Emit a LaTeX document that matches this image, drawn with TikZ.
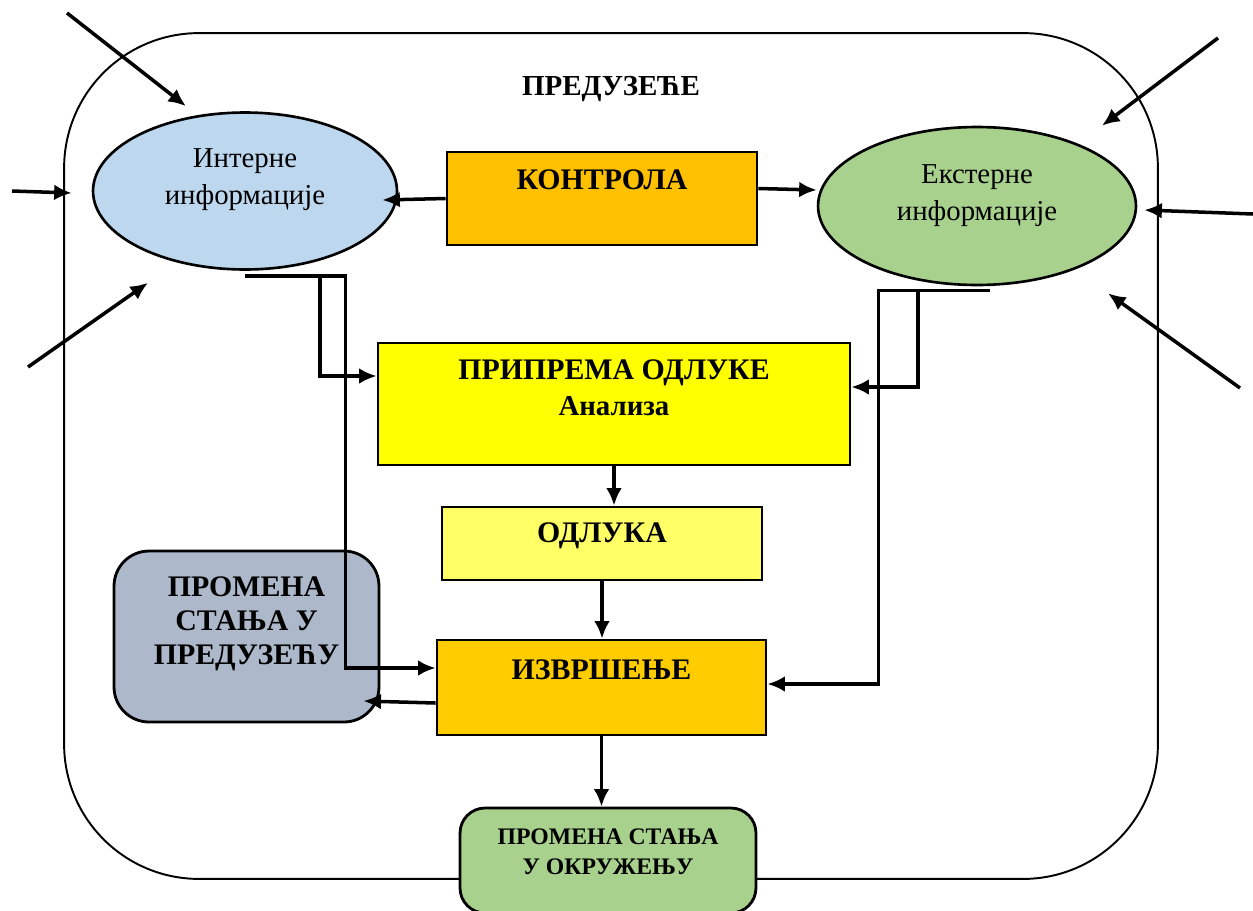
\documentclass[tikz,border=0pt]{standalone}
\usepackage{fontspec}
\setmainfont{Liberation Serif}
\usepackage{tikz}
\usetikzlibrary{
  shapes.geometric,
  arrows.meta}

\definecolor{infoblue}{HTML}{BDD7EE}
\definecolor{infogreen}{HTML}{A9D18E}
\definecolor{ctrlorange}{HTML}{FFC000}
\definecolor{prepyellow}{HTML}{FFFF00}
\definecolor{decyellow}{HTML}{FFFF66}
\definecolor{execorange}{HTML}{FFCC00}
\definecolor{stategray}{HTML}{ADB9CA}

\begin{document}
\begin{tikzpicture}[x=0.02cm, y=-0.02cm,
  box/.style={draw, line width=1.6pt, inner sep=0pt},
  info/.style={ellipse, draw, line width=1.5pt, inner sep=0pt},
  txt/.style={align=center, anchor=center, font=\bfseries\fontsize{17}{19.5}\selectfont},
  infotxt/.style={align=center, anchor=center, font=\fontsize{16.4}{21}\selectfont},
  arr/.style={line width=2pt, -{Latex[length=10pt,width=9pt]}}]

\useasboundingbox (0,0) rectangle (1253,910);

\node[draw, line width=1.1pt, rounded corners=2.7cm, minimum width=21.88cm, minimum height=16.92cm,
  label={[txt, font=\bfseries\fontsize{16.5}{19}\selectfont, yshift=-1.14cm]north:ПРЕДУЗЕЋЕ}] (firm) at (611,456) {};

\node[info, fill=infoblue, minimum width=6.08cm, minimum height=3.14cm,
  label={[infotxt, yshift=0.23cm]center:Интерне\\информације}] (intern) at (245,191) {};
\node[info, fill=infogreen, minimum width=6.36cm, minimum height=3.16cm,
  label={[infotxt, yshift=0.2cm]center:Екстерне\\информације}] (extern) at (977,206) {};

\node[box, fill=ctrlorange, minimum width=6.2cm, minimum height=1.86cm,
  label={[txt, yshift=-0.58cm]north:КОНТРОЛА}] (kontrola) at (602,198.5) {};
\node[box, fill=prepyellow, minimum width=9.44cm, minimum height=2.44cm,
  label={[txt, yshift=-0.92cm]north:ПРИПРЕМА ОДЛУКЕ\\[1pt]{\fontsize{16.4}{19}\selectfont Анализа}}] (prip) at (614,404) {};
\node[box, fill=decyellow, minimum width=6.4cm, minimum height=1.46cm,
  label={[txt, yshift=-0.6cm]north:ОДЛУКА}] (odluka) at (602,543.5) {};
\node[box, fill=execorange, minimum width=6.58cm, minimum height=1.9cm,
  label={[txt, yshift=-0.62cm]north:ИЗВРШЕЊЕ}] (izvr) at (601.5,687.5) {};
\node[box, fill=stategray, rounded corners=0.7cm, minimum width=5.3cm, minimum height=3.42cm,
  label={[txt, yshift=-1.48cm]north:ПРОМЕНА\\СТАЊА У\\ПРЕДУЗЕЋУ}] (promp) at (246.5,636.5) {};
\node[box, fill=infogreen, rounded corners=0.5cm, minimum width=5.92cm, minimum height=2.1cm,
  label={[txt, font=\bfseries\fontsize{13.5}{17}\selectfont, yshift=-0.9cm]north:ПРОМЕНА СТАЊА\\У ОКРУЖЕЊУ}] (okr) at (608,860.5) {};

% outside inputs
\coordinate (in1) at (67,13);
\coordinate (in2) at (12,191);
\coordinate (in3) at (28,367);
\coordinate (ex1) at (1218,38);
\coordinate (ex2) at (1253,214);
\coordinate (ex3) at (1240,388);
\draw[arr] (in1) -- ([shift={(-59,-5)}]intern.north);
\draw[arr] (in2) -- ([shift={(-20,2)}]intern.west);
\draw[arr] (in3) -- ([shift={(-97,12)}]intern.south);
\draw[arr] (ex1) -- ([shift={(125,0)}]extern.north);
\draw[arr] (ex2) -- ([shift={(7,4)}]extern.east);
\draw[arr] (ex3) -- ([shift={(131,7)}]extern.south);

\draw[arr] (kontrola.west) -- ([shift={(-16,9)}]intern.east);
\draw[arr] ([shift={(0,-10)}]kontrola.east) -- ([shift={(0,-16)}]extern.west);

\draw[arr] ([shift={(0,5)}]intern.south) -| ([shift={(-90,-19.5)}]izvr.west) -- ([shift={(0,-19.5)}]izvr.west);
\draw[arr] ([shift={(75,5)}]intern.south) |- ([shift={(0,-28)}]prip.west);
\draw[arr] ([shift={(13,4)}]extern.south) -| ([shift={(111,-3.5)}]izvr.east) -- ([shift={(0,-3.5)}]izvr.east);
\draw[arr] ([shift={(-59,4)}]extern.south) |- ([shift={(0,-17)}]prip.east);

\draw[arr] (prip.south) -- (prip.south |- odluka.north);
\draw[arr] (odluka.south) -- (odluka.south |- izvr.north);
\draw[arr] ([shift={(0,15.5)}]izvr.west) -- ([shift={(-17,64.5)}]promp.east);
\draw[arr] (izvr.south) -- (izvr.south |- okr.north);

\end{tikzpicture}
\end{document}
